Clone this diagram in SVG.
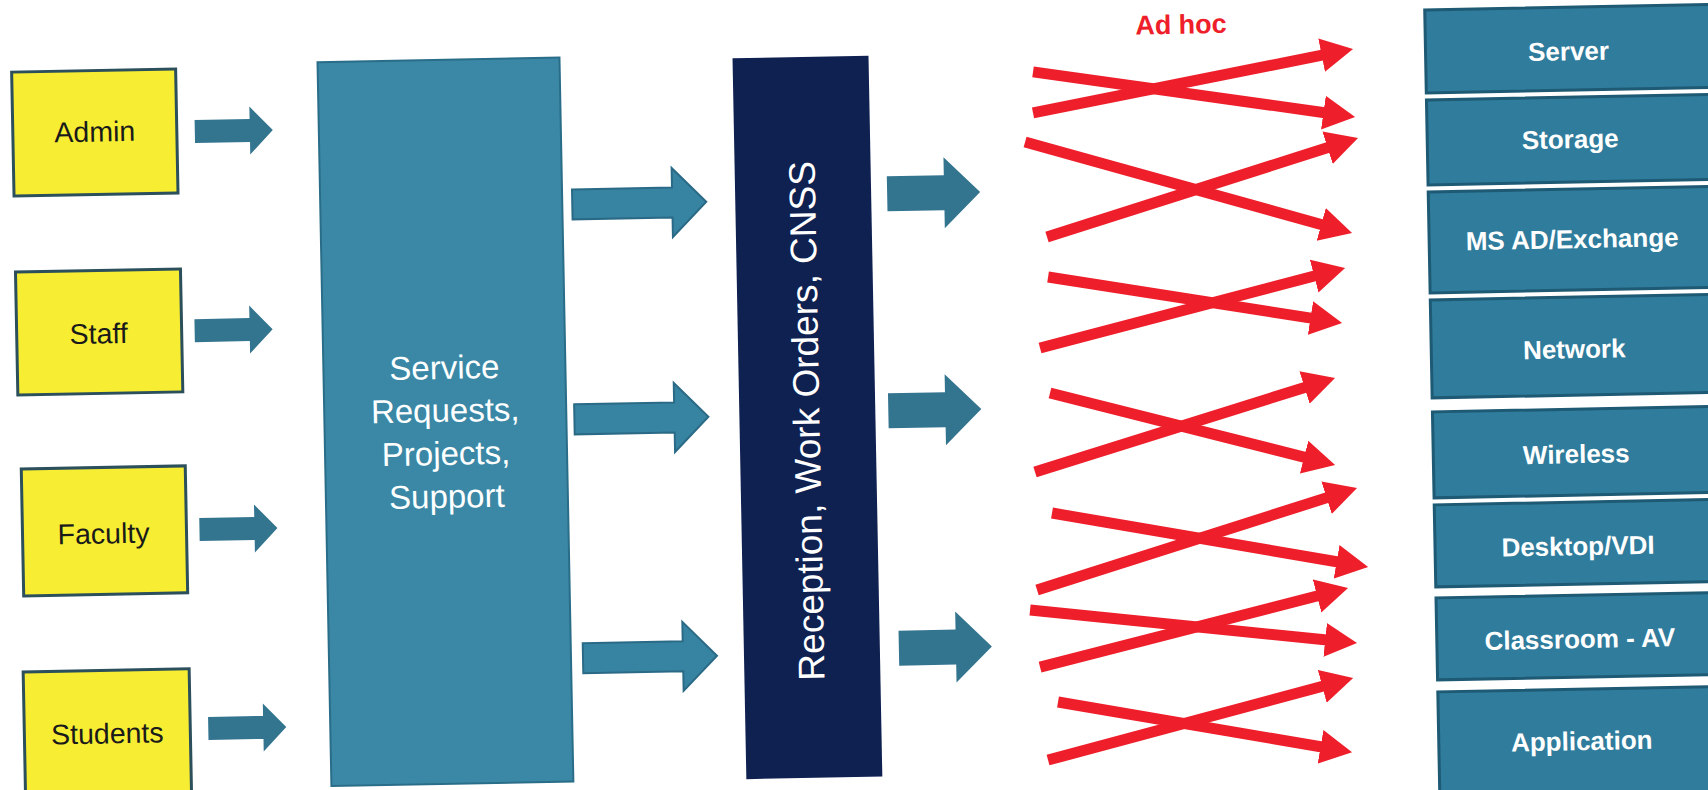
<svg xmlns="http://www.w3.org/2000/svg" width="1708" height="790" viewBox="0 0 1708 790">
  <style>
    .who { fill: #f7ee33; stroke: #2c4f5c; stroke-width: 3; }
    .who-t { font-family: "Liberation Sans", Arial, sans-serif; font-size: 28.5px; fill: #1a1a1a; text-anchor: middle; }
    .feed { fill: #33748f; }
    .mid { fill: #3784a2; stroke: #2a6a86; stroke-width: 2; }
    .out { fill: #33748f; }
    .req { fill: #3a88a6; stroke: #2a6d88; stroke-width: 2; }
    .req-t { font-family: "Liberation Sans", Arial, sans-serif; font-size: 33px; fill: #ffffff; text-anchor: middle; }
    .desk { fill: #0f2150; }
    .desk-t { font-family: "Liberation Sans", Arial, sans-serif; font-size: 37px; fill: #ffffff; text-anchor: middle; }
    .team { fill: #2f7c9c; stroke: #1e5a74; stroke-width: 3; }
    .team-t { font-family: "Liberation Sans", Arial, sans-serif; font-size: 26px; font-weight: bold; fill: #ffffff; text-anchor: middle; }
    .adhoc { stroke: #ee1f2b; stroke-width: 11; fill: none; marker-end: url(#redHead); }
    .adhoc-t { font-family: "Liberation Sans", Arial, sans-serif; font-size: 27px; font-weight: bold; fill: #ee1f2b; text-anchor: middle; }
  </style>
  <defs>
    <marker id="redHead" markerUnits="userSpaceOnUse" viewBox="0 -18 34 36" markerWidth="34" markerHeight="36" refX="12" refY="0" orient="auto">
      <path d="M0,-17 L32,0 L0,17 Z" fill="#ee1f2b"/>
    </marker>
    <!-- block arrows, drawn with the tip on the right, origin at the tail centre -->
    <path id="arrowSmall" d="M0,-11.5 L55,-11.5 L55,-24 L78,0 L55,24 L55,11.5 L0,11.5 Z"/>
    <path id="arrowMid" d="M0,-15 L100,-15 L100,-34.5 L134,0 L100,34.5 L100,15 L0,15 Z"/>
    <path id="arrowOut" d="M0,-17.5 L57,-17.5 L57,-35.5 L93,0 L57,35.5 L57,17.5 L0,17.5 Z"/>
  </defs>
  <rect x="0" y="0" width="1708" height="790" fill="#ffffff"/>

  <g transform="rotate(-1.1 854 395)">
    <!-- requesters -->
    <g id="admin">
      <rect class="who" x="18" y="56" width="164" height="124"/>
      <text class="who-t" x="100" y="127">Admin</text>
    </g>
    <g id="staff">
      <rect class="who" x="18" y="256" width="165" height="123"/>
      <text class="who-t" x="100" y="329">Staff</text>
    </g>
    <g id="faculty">
      <rect class="who" x="20" y="453" width="164" height="127"/>
      <text class="who-t" x="101" y="529">Faculty</text>
    </g>
    <g id="students">
      <rect class="who" x="18" y="656" width="166" height="130"/>
      <text class="who-t" x="101" y="729">Students</text>
    </g>

    <!-- intake column -->
    <g id="requests">
      <rect class="req" x="324" y="52" width="242" height="724"/>
      <text class="req-t" x="445" y="371">Service</text>
      <text class="req-t" x="445" y="414">Requests,</text>
      <text class="req-t" x="445" y="457">Projects,</text>
      <text class="req-t" x="445" y="500">Support</text>
    </g>

    <!-- front desk -->
    <g id="reception">
      <rect class="desk" x="739" y="56" width="136" height="721"/>
      <text class="desk-t" transform="translate(819 420) rotate(-90)">Reception, Work Orders, CNSS</text>
    </g>

    <!-- technical teams -->
    <g id="server">
      <rect class="team" x="1432" y="21" width="300" height="83"/>
      <text class="team-t" x="1575" y="74">Server</text>
    </g>
    <g id="storage">
      <rect class="team" x="1432" y="111" width="300" height="85"/>
      <text class="team-t" x="1575" y="162">Storage</text>
    </g>
    <g id="msad">
      <rect class="team" x="1432" y="203" width="300" height="101"/>
      <text class="team-t" x="1575" y="262">MS AD/Exchange</text>
    </g>
    <g id="network">
      <rect class="team" x="1432" y="311" width="300" height="98"/>
      <text class="team-t" x="1575" y="372">Network</text>
    </g>
    <g id="wireless">
      <rect class="team" x="1432" y="423" width="300" height="86"/>
      <text class="team-t" x="1575" y="477">Wireless</text>
    </g>
    <g id="desktop">
      <rect class="team" x="1432" y="516" width="300" height="82"/>
      <text class="team-t" x="1575" y="569">Desktop/VDI</text>
    </g>
    <g id="classroom">
      <rect class="team" x="1432" y="609" width="300" height="82"/>
      <text class="team-t" x="1575" y="662">Classroom - AV</text>
    </g>
    <g id="application">
      <rect class="team" x="1432" y="703" width="300" height="110"/>
      <text class="team-t" x="1575" y="764">Application</text>
    </g>

    <!-- flows -->
    <g id="connectors">
      <use href="#arrowSmall" class="feed" transform="translate(200 119)"/>
      <use href="#arrowSmall" class="feed" transform="translate(196 318)"/>
      <use href="#arrowSmall" class="feed" transform="translate(197 517)"/>
      <use href="#arrowSmall" class="feed" transform="translate(202 716)"/>

      <use href="#arrowMid" class="mid" transform="translate(576 199)"/>
      <use href="#arrowMid" class="mid" transform="translate(574 414)"/>
      <use href="#arrowMid" class="mid" transform="translate(578 653)"/>

      <use href="#arrowOut" class="out" transform="translate(891 194.5)"/>
      <use href="#arrowOut" class="out" transform="translate(888 411.5)"/>
      <use href="#arrowOut" class="out" transform="translate(894 649)"/>

      <text class="adhoc-t" x="1188" y="40">Ad hoc</text>
      <line class="adhoc" x1="1039.2" y1="75.4" x2="1340.6" y2="123.5"/>
      <line class="adhoc" x1="1038.4" y1="116.4" x2="1339.9" y2="62.1"/>
      <line class="adhoc" x1="1029.9" y1="145.3" x2="1335.9" y2="236.9"/>
      <line class="adhoc" x1="1050" y1="240.7" x2="1343.7" y2="153.4"/>
      <line class="adhoc" x1="1050.3" y1="280.7" x2="1323.7" y2="328.9"/>
      <line class="adhoc" x1="1040.9" y1="351.6" x2="1328" y2="282.1"/>
      <line class="adhoc" x1="1050" y1="396.8" x2="1314.4" y2="468.9"/>
      <line class="adhoc" x1="1033.5" y1="475.5" x2="1316.1" y2="392.8"/>
      <line class="adhoc" x1="1049.7" y1="516.8" x2="1345.1" y2="573.2"/>
      <line class="adhoc" x1="1033.3" y1="593.5" x2="1336" y2="503.4"/>
      <line class="adhoc" x1="1025.9" y1="613.4" x2="1332.3" y2="650.3"/>
      <line class="adhoc" x1="1034.8" y1="670.6" x2="1324.8" y2="602.1"/>
      <line class="adhoc" x1="1052.1" y1="705.9" x2="1325.5" y2="757.9"/>
      <line class="adhoc" x1="1041" y1="763.7" x2="1328.2" y2="692.4"/>
    </g>
  </g>
</svg>
